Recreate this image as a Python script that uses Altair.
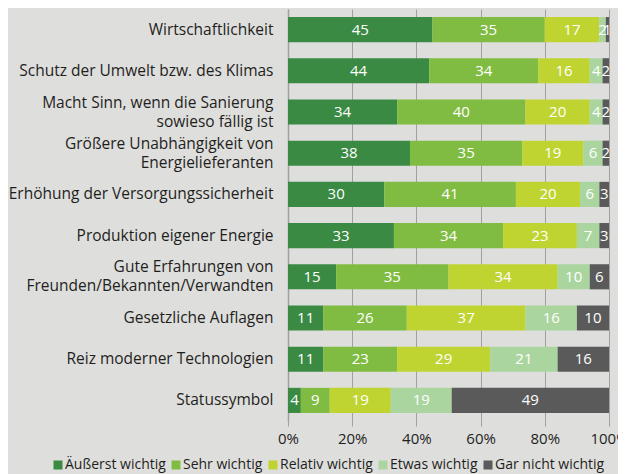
import altair as alt
import pandas as pd

categories = [
    "Wirtschaftlichkeit",
    "Schutz der Umwelt bzw. des Klimas",
    "Macht Sinn, wenn die Sanierung\nsowieso fällig ist",
    "Größere Unabhängigkeit von\nEnergielieferanten",
    "Erhöhung der Versorgungssicherheit",
    "Produktion eigener Energie",
    "Gute Erfahrungen von\nFreunden/Bekannten/Verwandten",
    "Gesetzliche Auflagen",
    "Reiz moderner Technologien",
    "Statussymbol",
]
levels = ["Äußerst wichtig", "Sehr wichtig", "Relativ wichtig", "Etwas wichtig", "Gar nicht wichtig"]
aeusserst = [45, 44, 34, 38, 30, 33, 15, 11, 11, 4]
sehr = [35, 34, 40, 35, 41, 34, 35, 26, 23, 9]
relativ = [17, 16, 20, 19, 20, 23, 34, 37, 29, 19]
etwas = [2, 4, 4, 6, 6, 7, 10, 16, 21, 19]
gar_nicht = [1, 2, 2, 2, 3, 3, 6, 10, 16, 49]
ticks = [0, 20, 40, 60, 80, 100]
colors = ["#3a8a43", "#80bc41", "#bfd430", "#aad59f", "#5a5a5a"]

series = [aeusserst, sehr, relativ, etwas, gar_nicht]
rows = []
for li, (lev, vals) in enumerate(zip(levels, series)):
    for cat, v in zip(categories, vals):
        rows.append({"cat": cat, "level": lev, "order": li, "value": v})
df = pd.DataFrame(rows)

FONT = "Open Sans"
GRID = "#a0a0a0"
TXT = "#1e1e1e"

y_enc = alt.Y(
    "cat:N",
    sort=categories,
    scale=alt.Scale(paddingInner=0.39, paddingOuter=0.195),
    axis=alt.Axis(
        title=None,
        ticks=False,
        domain=True,
        domainColor=GRID,
        domainWidth=1.5,
        labelFontSize=15.5,
        labelFont=FONT,
        labelColor=TXT,
        labelPadding=15,
        labelLimit=400,
        labelLineHeight=19,
        labelBaseline="middle",
        labelOffset={
            "condition": {"test": r"indexof(datum.value, '\n') >= 0", "value": -9.5},
            "value": 0,
        },
        labelExpr=r"split(datum.label, '\n')",
    ),
)

base = alt.Chart(df).transform_stack(
    stack="value", as_=["x0", "x1"], groupby=["cat"], sort=[alt.SortField("order")]
)

bars = base.mark_bar().encode(
    y=y_enc,
    x=alt.X(
        "x0:Q",
        scale=alt.Scale(domain=[0, 100], nice=False),
        axis=alt.Axis(
            title=None,
            values=ticks,
            labelExpr="datum.value + '%'",
            grid=True,
            gridColor=GRID,
            gridWidth=1,
            domain=False,
            tickSize=5,
            tickColor=GRID,
            labelFontSize=15,
            labelFont=FONT,
            labelColor=TXT,
            labelPadding=5,
            labelFlush=False,
        ),
    ),
    x2="x1:Q",
    color=alt.Color(
        "level:N",
        sort=levels,
        scale=alt.Scale(domain=levels, range=colors),
        legend=alt.Legend(
            title=None,
            orient="none",
            direction="horizontal",
            legendX=-237,
            legendY=449,
            symbolType="square",
            symbolSize=81,
            symbolStrokeWidth=0,
            symbolOpacity=1,
            labelFontSize=14,
            labelFont=FONT,
            labelColor=TXT,
            labelOffset=0,
            columnPadding=3,
            gridAlign="none",
            padding=0,
        ),
    ),
    order=alt.Order("order:Q"),
)

text = base.transform_calculate(mid="(datum.x0 + datum.x1) / 2").mark_text(
    color="white", fontSize=15, font=FONT, align="center", baseline="middle"
).encode(
    y=alt.Y("cat:N", sort=categories),
    x=alt.X("mid:Q"),
    text=alt.Text("value:Q"),
)

chart = (
    alt.layer(bars, text)
    .properties(
        width=321,
        height=412,
        autosize=alt.AutoSizeParams(type="none"),
        padding={"left": 280, "top": 1, "right": 9, "bottom": 53},
    )
    .configure(background="#dededc")
    .configure_view(stroke=None)
)

chart.save("out.html", embed_options={"renderer": "svg", "actions": False})
